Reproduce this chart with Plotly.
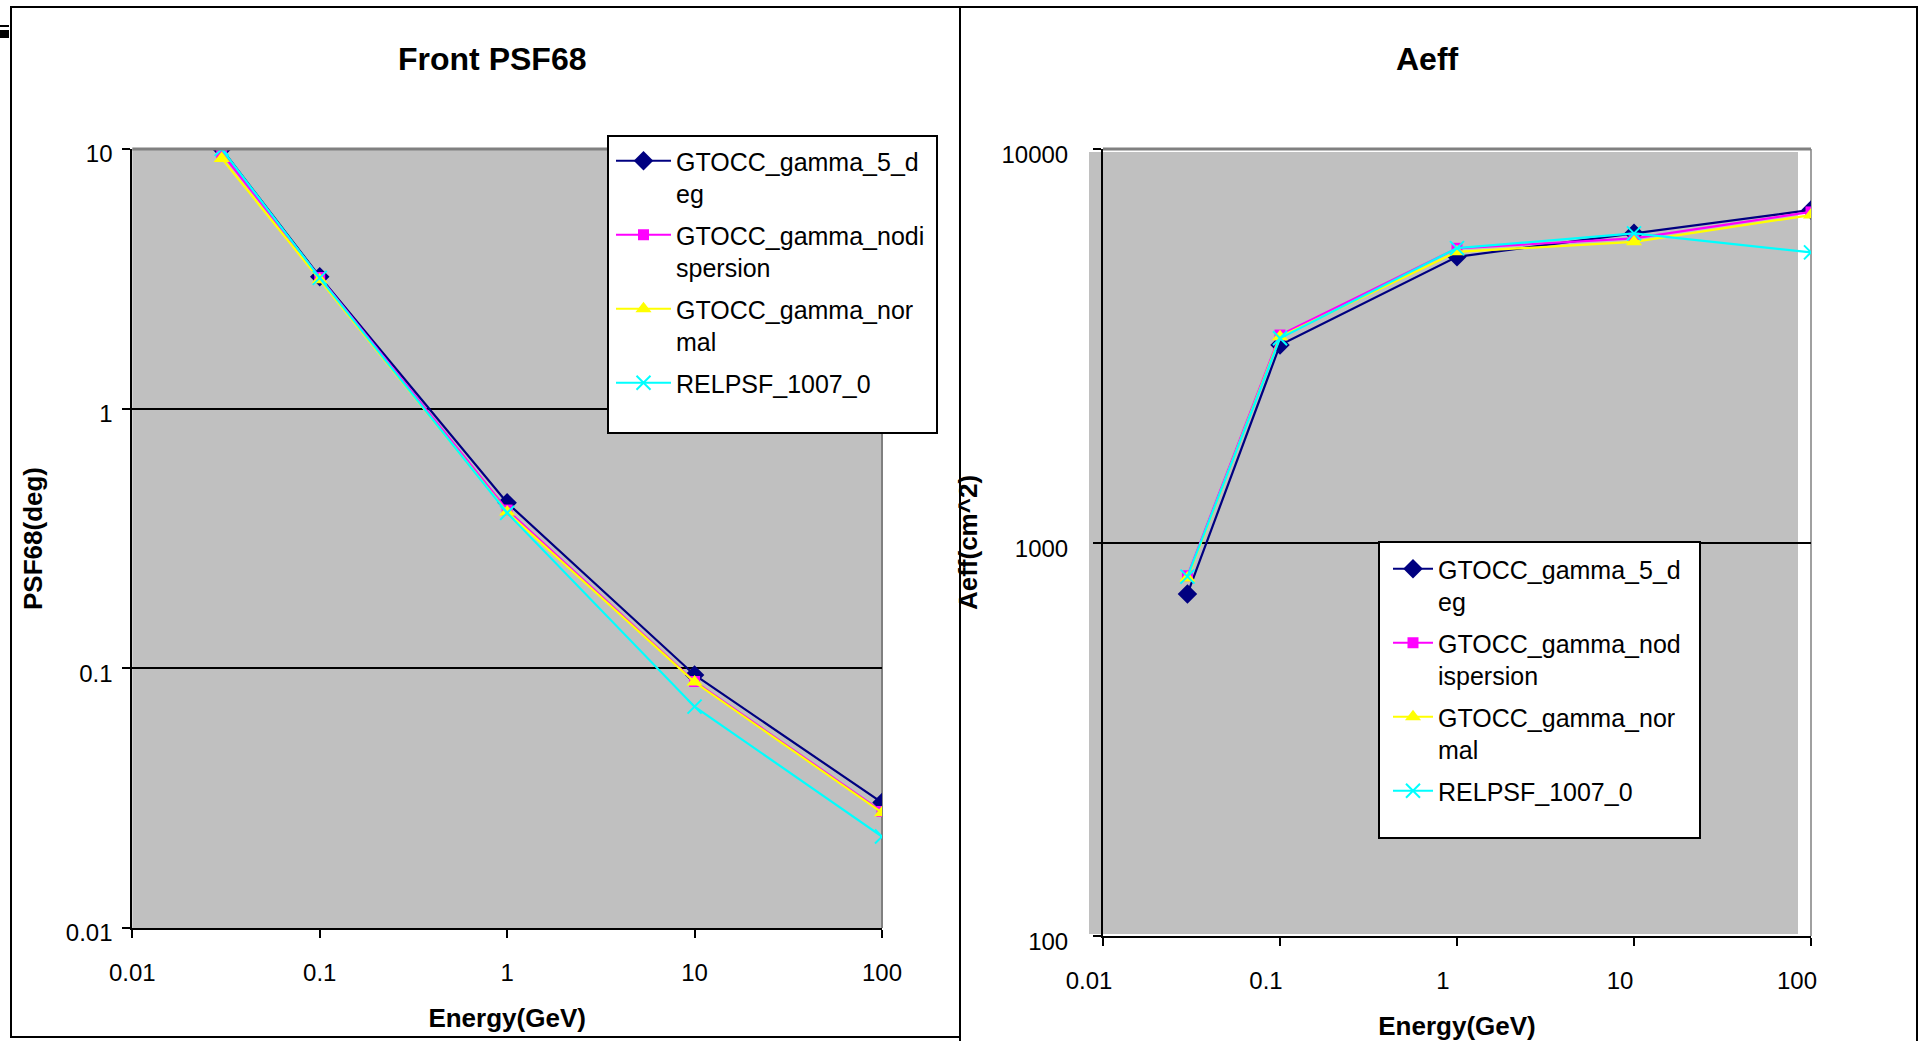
import plotly.graph_objects as go

# ---------------- data ----------------
energy = [0.03, 0.1, 1, 10, 100]

psf_5deg = [10.0, 3.22, 0.434, 0.0943, 0.0304]
psf_nodisp = [9.65, 3.2, 0.407, 0.089, 0.0281]
psf_normal = [9.2, 3.14, 0.40, 0.0885, 0.0278]
psf_relpsf = [10.0, 3.19, 0.397, 0.0712, 0.0225]

aeff_5deg = [740, 3177, 5322, 6110, 7000]
aeff_nodisp = [823, 3367, 5593, 5930, 6920]
aeff_normal = [812, 3333, 5480, 5808, 6795]
aeff_relpsf = [819, 3303, 5600, 6103, 5462]

x_tickvals = [0.01, 0.1, 1, 10, 100]
x_ticktext = ["0.01", "0.1", "1", "10", "100"]
psf_tickvals = [0.01, 0.1, 1, 10]
psf_ticktext = ["0.01", "0.1", "1", "10"]
aeff_tickvals = [100, 1000, 10000]
aeff_ticktext = ["100", "1000", "10000"]

names_left = ["GTOCC_gamma_5_d<br>eg", "GTOCC_gamma_nodi<br>spersion",
              "GTOCC_gamma_nor<br>mal", "RELPSF_1007_0"]
names_right = ["GTOCC_gamma_5_d<br>eg", "GTOCC_gamma_nod<br>ispersion",
               "GTOCC_gamma_nor<br>mal", "RELPSF_1007_0"]

colors = ["#000080", "#FF00FF", "#FFFF00", "#00FFFF"]
symbols = ["diamond", "square", "triangle-up", "x-thin"]
msizes = [15, 11, 14, 14]

W, H = 1929, 1041
FONT = "Liberation Sans, Arial, sans-serif"


def fx(px):
    return px / W


def fy(py):
    return 1 - py / H


fig = go.Figure()

left_series = [psf_5deg, psf_nodisp, psf_normal, psf_relpsf]
right_series = [aeff_5deg, aeff_nodisp, aeff_normal, aeff_relpsf]

for i in range(4):
    mk = dict(color=colors[i], symbol=symbols[i], size=msizes[i])
    if symbols[i] == "x-thin":
        mk["line"] = dict(color=colors[i], width=2)
    fig.add_trace(go.Scatter(
        x=energy, y=left_series[i], name=names_left[i], mode="lines+markers",
        line=dict(color=colors[i], width=2.2), marker=mk,
        legendgroup="L%d" % i,
        xaxis="x", yaxis="y", legend="legend"))
for i in range(4):
    mk = dict(color=colors[i], symbol=symbols[i], size=msizes[i])
    if symbols[i] == "x-thin":
        mk["line"] = dict(color=colors[i], width=2)
    fig.add_trace(go.Scatter(
        x=energy, y=right_series[i], name=names_right[i], mode="lines+markers",
        line=dict(color=colors[i], width=2.2), marker=mk,
        legendgroup="R%d" % i,
        xaxis="x2", yaxis="y2", legend="legend2"))

tickfont = dict(family=FONT, size=24, color="black")
titlefont = dict(family=FONT, size=26, color="black", weight="bold")

common_x = dict(type="log", range=[-2, 2], tickvals=x_tickvals, ticktext=x_ticktext,
                ticks="outside", ticklen=8, tickwidth=2, tickcolor="black",
                showline=True, linecolor="black", linewidth=2, showgrid=False,
                zeroline=False, tickfont=tickfont, automargin=False)
common_y = dict(type="log", ticks="outside", ticklen=8, tickwidth=2, tickcolor="black",
                showline=True, linecolor="black", linewidth=2, showgrid=True,
                gridcolor="black", gridwidth=2, zeroline=False, tickfont=tickfont,
                automargin=False)

fig.update_layout(
    width=W, height=H,
    margin=dict(l=0, r=0, t=0, b=0, autoexpand=False),
    paper_bgcolor="white", plot_bgcolor="rgba(0,0,0,0)",
    font=dict(family=FONT, color="black"),
    xaxis=dict(common_x, domain=[fx(132.3), fx(882)], anchor="y",
               ticklabelstandoff=14,
               title=dict(text="Energy(GeV)", font=titlefont, standoff=24)),
    yaxis=dict(common_y, domain=[fy(928), fy(149)], anchor="x", range=[-2, 1],
               tickvals=psf_tickvals, ticktext=psf_ticktext,
               ticklabelstandoff=5, ticklabelshift=5,
               title=dict(text="PSF68(deg)", font=titlefont, standoff=16)),
    xaxis2=dict(common_x, domain=[fx(1103), fx(1811)], anchor="y2",
                ticklabelstandoff=14, ticklabelshift=-14,
                title=dict(text="Energy(GeV)", font=titlefont, standoff=25)),
    yaxis2=dict(common_y, domain=[fy(936), fy(149)], anchor="x2", range=[2, 4],
                tickvals=aeff_tickvals, ticktext=aeff_ticktext,
                ticklabelstandoff=20, ticklabelshift=6,
                title=dict(text="Aeff(cm^2)", font=titlefont, standoff=16)),
    legend=dict(x=fx(611), y=fy(138), xanchor="left", yanchor="top",
                bgcolor="rgba(0,0,0,0)", borderwidth=0, itemwidth=55,
                valign="top", tracegroupgap=6,
                font=dict(family=FONT, size=25, color="black")),
    legend2=dict(x=fx(1388), y=fy(546), xanchor="left", yanchor="top",
                 bgcolor="rgba(0,0,0,0)", borderwidth=0, itemwidth=40,
                 valign="top", tracegroupgap=6,
                 font=dict(family=FONT, size=25, color="black")),
    showlegend=True,
)

shapes = []
# plot area backgrounds
shapes.append(dict(type="rect", xref="x domain", yref="y domain", x0=0, x1=1, y0=0, y1=1,
                   fillcolor="#C0C0C0", line=dict(width=0), layer="below"))
shapes.append(dict(type="rect", xref="paper", yref="paper",
                   x0=fx(1089), x1=fx(1798), y0=fy(934), y1=fy(152),
                   fillcolor="#C0C0C0", line=dict(width=0), layer="below"))
# right borders of plot areas
shapes.append(dict(type="line", xref="x domain", yref="y domain", x0=1, x1=1, y0=0, y1=1,
                   line=dict(color="#808080", width=2), layer="below"))
shapes.append(dict(type="line", xref="x2 domain", yref="y2 domain", x0=1, x1=1, y0=0, y1=1,
                   line=dict(color="#A0A0A0", width=2), layer="below"))
# top borders of plot areas
shapes.append(dict(type="line", xref="x domain", yref="y domain", x0=0, x1=1, y0=1, y1=1,
                   line=dict(color="#808080", width=3), layer="above"))
shapes.append(dict(type="line", xref="x2 domain", yref="y2 domain", x0=0, x1=1, y0=1, y1=1,
                   line=dict(color="#808080", width=3), layer="above"))
# chart frames
shapes.append(dict(type="rect", xref="paper", yref="paper",
                   x0=fx(11), x1=fx(960), y0=fy(1037), y1=fy(7),
                   line=dict(color="black", width=2), layer="above"))
shapes.append(dict(type="rect", xref="paper", yref="paper",
                   x0=fx(960), x1=fx(1917), y0=fy(1060), y1=fy(7),
                   line=dict(color="black", width=2), layer="above"))
# small mark top-left
shapes.append(dict(type="rect", xref="paper", yref="paper",
                   x0=0, x1=fx(9), y0=fy(38), y1=fy(30),
                   fillcolor="black", line=dict(width=0), layer="above"))
shapes.append(dict(type="line", xref="paper", yref="paper",
                   x0=0, x1=fx(9), y0=fy(26), y1=fy(26),
                   line=dict(color="black", width=2), layer="above"))
# legend boxes
shapes.append(dict(type="rect", xref="paper", yref="paper",
                   x0=fx(608), x1=fx(937), y0=fy(433), y1=fy(136),
                   fillcolor="white", line=dict(color="black", width=2), layer="above"))
shapes.append(dict(type="rect", xref="paper", yref="paper",
                   x0=fx(1379), x1=fx(1700), y0=fy(838), y1=fy(542),
                   fillcolor="white", line=dict(color="black", width=2), layer="above"))
fig.update_layout(shapes=shapes)

fig.update_layout(annotations=[
    dict(text="Front PSF68", x=fx(492), y=fy(59), xref="paper", yref="paper",
         xanchor="center", yanchor="middle", showarrow=False,
         font=dict(family=FONT, size=32, color="black", weight="bold")),
    dict(text="Aeff", x=fx(1427), y=fy(59), xref="paper", yref="paper",
         xanchor="center", yanchor="middle", showarrow=False,
         font=dict(family=FONT, size=32, color="black", weight="bold")),
])

fig.write_html(
    "out.html",
    config={"displayModeBar": False},
    post_script="document.body.style.margin='0px';document.body.style.overflow='hidden';",
)
